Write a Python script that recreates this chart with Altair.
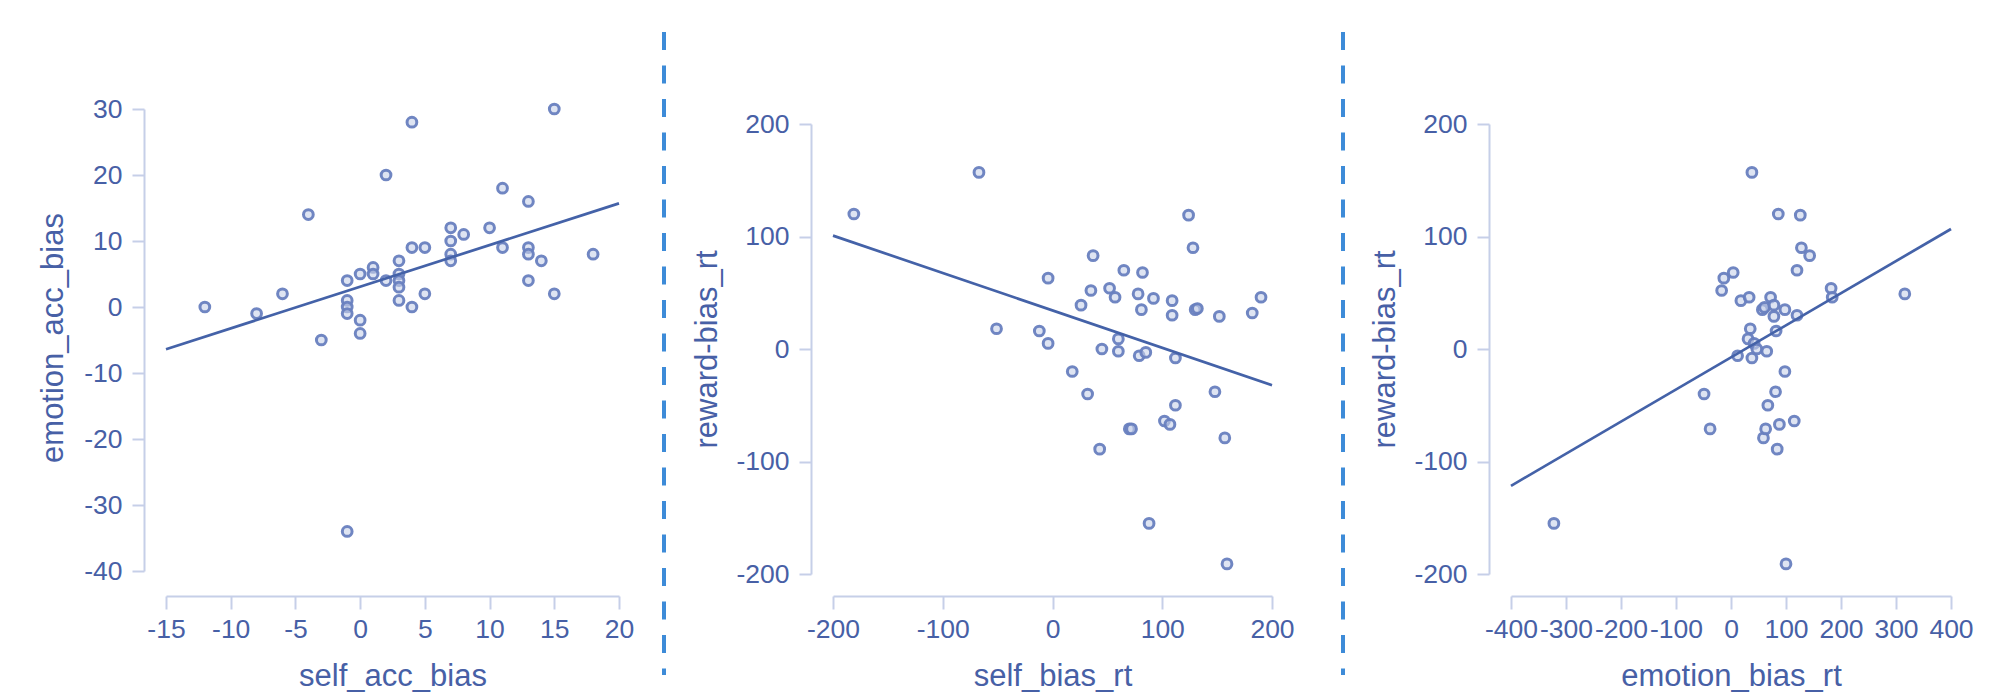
import altair as alt
import pandas as pd

# ---------------- Panel 1: self_acc_bias vs emotion_acc_bias ----------------
p1_x = [-12, -8, -6, -4, -3, -1, -1, -1, -1, -1, 0, 0, 0, 1, 1, 2, 2, 3, 3, 3, 3, 3,
        4, 4, 4, 5, 5, 7, 7, 7, 7, 8, 10, 11, 11, 13, 13, 13, 13, 14, 15, 15, 18]
p1_y = [0, -1, 2, 14, -5, 4, 1, 0, -1, -34, 5, -2, -4, 6, 5, 20, 4, 7, 5, 4, 3, 1,
        28, 9, 0, 9, 2, 12, 10, 8, 7, 11, 12, 18, 9, 16, 9, 8, 4, 7, 30, 2, 8]
p1_fit_x = [-15, 20]
p1_fit_y = [-6.4, 15.7]
p1_xticks = [-15, -10, -5, 0, 5, 10, 15, 20]
p1_yticks = [-40, -30, -20, -10, 0, 10, 20, 30]

# ---------------- Panel 2: self_bias_rt vs reward-bias_rt ----------------
p2_x = [-181, -67, -51, -12, -4, -4, 18, 26, 32, 35, 37, 43, 45, 52, 57, 60, 60, 65,
        70, 72, 78, 79, 81, 82, 85, 88, 92, 102, 107, 109, 109, 112, 112, 124, 128,
        130, 132, 148, 152, 157, 159, 182, 190]
p2_y = [120, 157, 18, 16, 5, 63, -20, 39, -40, 52, 83, -89, 0, 54, 46, 9, -2, 70,
        -71, -71, 49, -6, 35, 68, -3, -155, 45, -64, -67, 43, 30, -8, -50, 119, 90,
        35, 36, -38, 29, -79, -191, 32, 46]
p2_fit_x = [-200, 200]
p2_fit_y = [100.8, -32.2]
p2_xticks = [-200, -100, 0, 100, 200]
p2_yticks = [-200, -100, 0, 100, 200]

# ---------------- Panel 3: emotion_bias_rt vs reward-bias_rt ----------------
p3_x = [-322, -49, -38, -17, -13, 4, 12, 18, 33, 35, 31, 38, 38, 42, 47, 57, 61, 59,
        63, 65, 67, 72, 78, 78, 81, 82, 84, 86, 88, 98, 98, 100, 115, 120, 120, 126,
        128, 143, 182, 184, 316]
p3_y = [-155, -40, -71, 52, 63, 68, -6, 43, 46, 18, 9, 157, -8, 5, 0, 35, 37, -79,
        -71, -2, -50, 46, 39, 29, -38, 16, -89, 120, -67, 35, -20, -191, -64, 70, 30,
        119, 90, 83, 54, 46, 49]
p3_fit_x = [-400, 400]
p3_fit_y = [-121.6, 106.7]
p3_xticks = [-400, -300, -200, -100, 0, 100, 200, 300, 400]
p3_yticks = [-200, -100, 0, 100, 200]

TEXT = "#4760a6"
AXIS = "#c6cfe8"
FONT = "Liberation Sans"
H = 465


def panel(xs, ys, fx, fy, xdom, ydom, xticks, yticks, xtitle, ytitle,
          xrange_, yrange_, width, ytitle_x=None, text_title=None,
          sep_x=None, anchor_x=None):
    df = pd.DataFrame({"x": xs, "y": ys})
    fit = pd.DataFrame({"x": fx, "y": fy})
    common = dict(
        grid=False, labelFont=FONT, titleFont=FONT, labelFontSize=26.5,
        titleFontSize=31, titleFontWeight="normal", labelColor=TEXT,
        titleColor=TEXT, domainColor=AXIS, domainWidth=2, tickColor=AXIS,
        tickWidth=2, labelOverlap=False, labelFlush=False, labelBound=False,
        offset=22, labelExpr="'' + datum.value",
    )
    xaxis = alt.Axis(values=xticks, title=xtitle, tickSize=13, labelPadding=7,
                     titlePadding=19, **common)
    yextra = {}
    if ytitle_x is not None:
        yextra["titleX"] = ytitle_x
    yaxis = alt.Axis(values=yticks, title=ytitle, tickSize=12, labelPadding=10,
                     **yextra, **common)
    xs_ = alt.Scale(domain=xdom, range=xrange_, nice=False, zero=False)
    ys_ = alt.Scale(domain=ydom, range=yrange_, nice=False, zero=False)

    pts = alt.Chart(df).mark_circle(
        size=95, fill="#c8d2ea", fillOpacity=0.6, stroke="#6880bf",
        strokeWidth=3, strokeOpacity=0.95
    ).encode(x=alt.X("x:Q", scale=xs_, axis=xaxis),
             y=alt.Y("y:Q", scale=ys_, axis=yaxis))
    line = alt.Chart(fit).mark_line(color="#4462a8", strokeWidth=2.7).encode(
        x="x:Q", y="y:Q")
    layers = [pts, line]
    one = pd.DataFrame({"a": [0]})
    if text_title is not None:
        tt, tx, ty = text_title
        ttl = alt.Chart(pd.DataFrame({"t": [tt]})).mark_text(
            angle=270, align="center", baseline="middle", font=FONT,
            fontSize=31, color=TEXT
        ).encode(text="t:N", x=alt.value(tx), y=alt.value(ty))
        layers.append(ttl)
    if sep_x is not None:
        sep = alt.Chart(one).mark_rule(
            color="#3d8bd8", strokeWidth=4, strokeDash=[18, 15.5]
        ).encode(x=alt.value(sep_x), y=alt.value(-77), y2=alt.value(566))
        layers.append(sep)
    if anchor_x is not None:
        anc = alt.Chart(one).mark_rule(strokeOpacity=0, strokeWidth=0.1).encode(
            x=alt.value(anchor_x), y=alt.value(-101), y2=alt.value(-100))
        layers.append(anc)
    return alt.layer(*layers).properties(width=width, height=H)


c1 = panel(p1_x, p1_y, p1_fit_x, p1_fit_y, [-15, 20], [-40, 30], p1_xticks,
           p1_yticks, "self_acc_bias", None, [0, 453], [462, 0], 667,
           text_title=("emotion_acc_bias", -112, 229))
c2 = panel(p2_x, p2_y, p2_fit_x, p2_fit_y, [-200, 200], [-200, 200], p2_xticks,
           p2_yticks, "self_bias_rt", "reward-bias_rt", [0, 439], [465, 15],
           678, ytitle_x=-88, sep_x=-169, anchor_x=-825)
c3 = panel(p3_x, p3_y, p3_fit_x, p3_fit_y, [-400, 400], [-200, 200], p3_xticks,
           p3_yticks, "emotion_bias_rt", "reward-bias_rt", [0, 440], [465, 15],
           440, ytitle_x=-88, sep_x=-168)

chart = alt.hconcat(c1, c2, c3, spacing=0, bounds="flush").properties(
    padding=0, autosize=alt.AutoSizeParams(type="pad")
).configure(background="white").configure_view(stroke=None)

chart.save("out.html", embed_options={"renderer": "svg", "actions": False})
